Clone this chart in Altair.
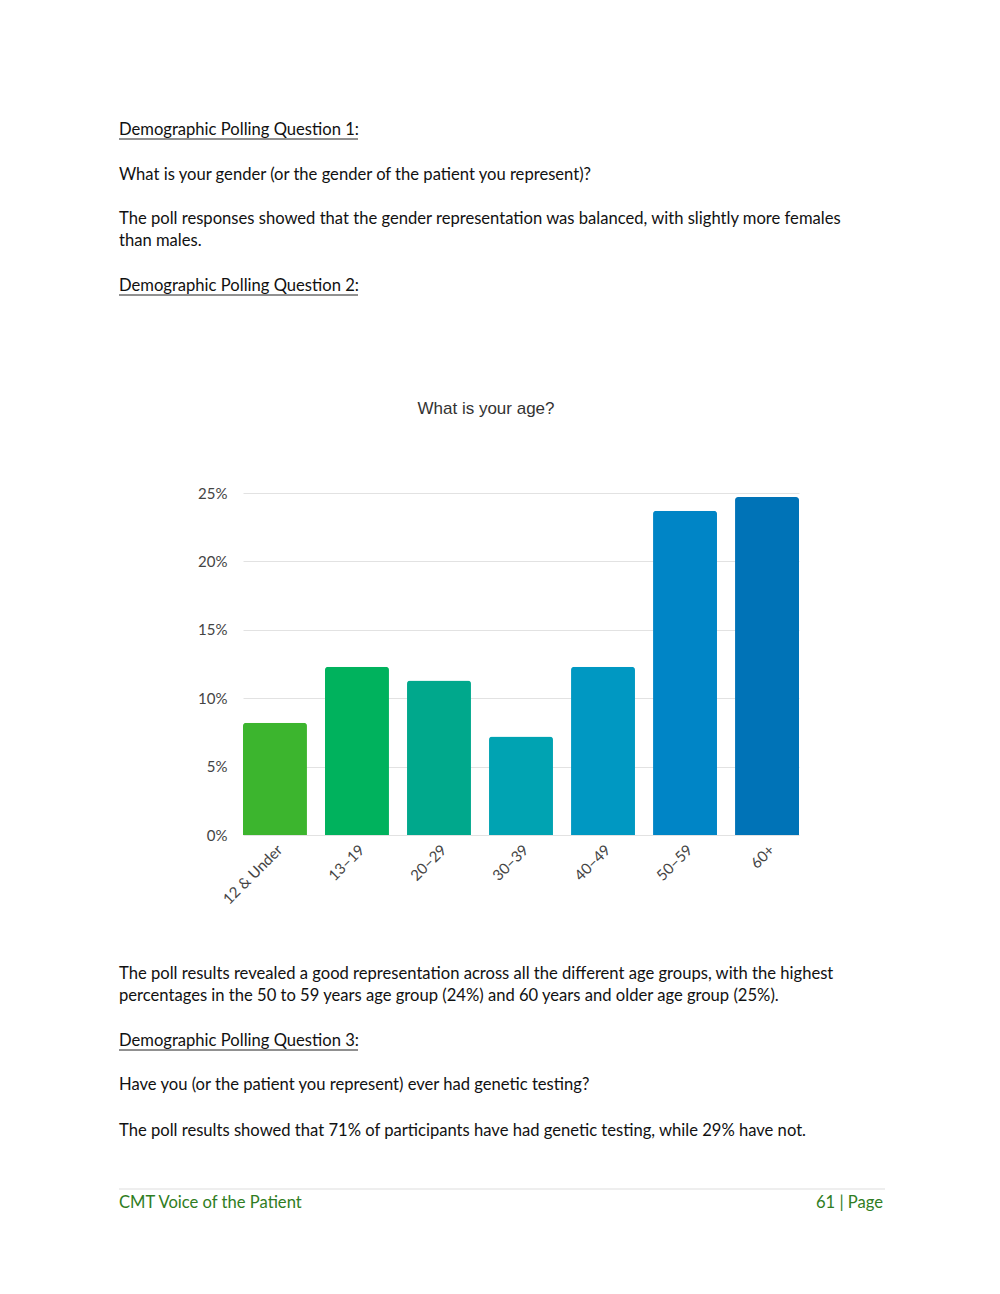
import altair as alt
import pandas as pd

# ---- data ----
age_groups = ["12 & Under", "13-19", "20-29", "30-39", "40-49", "50-59", "60+"]
age_labels = ["12 & Under", "13–19", "20–29", "30–39", "40–49", "50–59", "60+"]
shares = [8.2, 12.3, 11.3, 7.2, 12.3, 23.7, 24.7]
bar_colors = ["#3cb52e", "#00b25d", "#00a88c", "#00a3b2", "#0098c2", "#0085c6", "#0073b7"]
y_ticks = [0, 5, 10, 15, 20, 25]

chart_title = "What is your age?"
paragraphs = [
    ("Demographic Polling Question 1:", 130, True),
    ("What is your gender (or the gender of the patient you represent)?", 175, False),
    ("The poll responses showed that the gender representation was balanced, with slightly more females", 219, False),
    ("than males.", 241, False),
    ("Demographic Polling Question 2:", 286, True),
    ("The poll results revealed a good representation across all the different age groups, with the highest", 974, False),
    ("percentages in the 50 to 59 years age group (24%) and 60 years and older age group (25%).", 996, False),
    ("Demographic Polling Question 3:", 1041, True),
    ("Have you (or the patient you represent) ever had genetic testing?", 1085, False),
    ("The poll results showed that 71% of participants have had genetic testing, while 29% have not.", 1131, False),
]
footer_left = "CMT Voice of the Patient"
footer_right = "61 | Page"

# ---- layout (page px) ----
X0, Y0 = 243, 493  # plot origin on the page
W, H = 556, 342
BODY_FONT = "Lato"
BODY_SIZE = 16.6

df = pd.DataFrame({"age": age_groups, "label": age_labels, "share": shares})

label_expr = "{" + ",".join(f"'{a}':'{l}'" for a, l in zip(age_groups, age_labels)) + "}[datum.value]"

bars = alt.Chart(df).mark_bar(cornerRadiusTopLeft=3, cornerRadiusTopRight=3).encode(
    x=alt.X("age:N", sort=age_groups,
            scale=alt.Scale(paddingInner=0.22, paddingOuter=0),
            axis=alt.Axis(title=None, labelAngle=-45, labelFont="Lato", labelFontSize=15,
                          labelColor="#444", ticks=False, domain=False, labelPadding=7,
                          labelExpr=label_expr)),
    y=alt.Y("share:Q", scale=alt.Scale(domain=[0, 25], nice=False),
            axis=alt.Axis(title=None, values=y_ticks, labelExpr="datum.value + '%'",
                          labelFont="Lato", labelFontSize=15, labelColor="#444",
                          ticks=False, domain=False, labelPadding=16,
                          gridColor="#e2e2e2", gridWidth=1)),
    color=alt.Color("age:N", sort=age_groups,
                    scale=alt.Scale(domain=age_groups, range=bar_colors), legend=None),
)

one = pd.DataFrame({"k": [0]})


def txt(s, x, y, size=BODY_SIZE, color="#111", font=BODY_FONT, align="left"):
    return alt.Chart(pd.DataFrame({"t": [s]})).mark_text(
        align=align, baseline="middle", font=font, fontSize=size, color=color
    ).encode(x=alt.value(x - X0), y=alt.value(y - Y0), text="t:N")


def rule(x1, x2, y, color="#222", width=1):
    return alt.Chart(one).mark_rule(color=color, strokeWidth=width).encode(
        x=alt.value(x1 - X0), x2=alt.value(x2 - X0), y=alt.value(y - Y0)
    )


layers = [bars]
for s, y, underline in paragraphs:
    layers.append(txt(s, 119, y))
    if underline:
        layers.append(rule(119, 358, y + 9))

layers.append(txt(chart_title, 486, 409, size=17, color="#333", font="Liberation Sans", align="center"))
layers.append(rule(119, 885, 1189, color="#dddddd"))
layers.append(txt(footer_left, 119, 1203, color="#2f7d22"))
layers.append(txt(footer_right, 883, 1203, color="#2f7d22", align="right"))

chart = alt.layer(*layers).properties(
    width=W, height=H,
    autosize=alt.AutoSizeParams(type="none"),
    padding={"left": X0 - 8, "top": Y0 - 8, "right": 1000 - 16 - (X0 + W) + 8,
             "bottom": 1294 - 16 - (Y0 + H) + 8},
    background="white",
).configure_view(stroke=None)

chart.save("out.html", embed_options={"renderer": "svg", "actions": False})
